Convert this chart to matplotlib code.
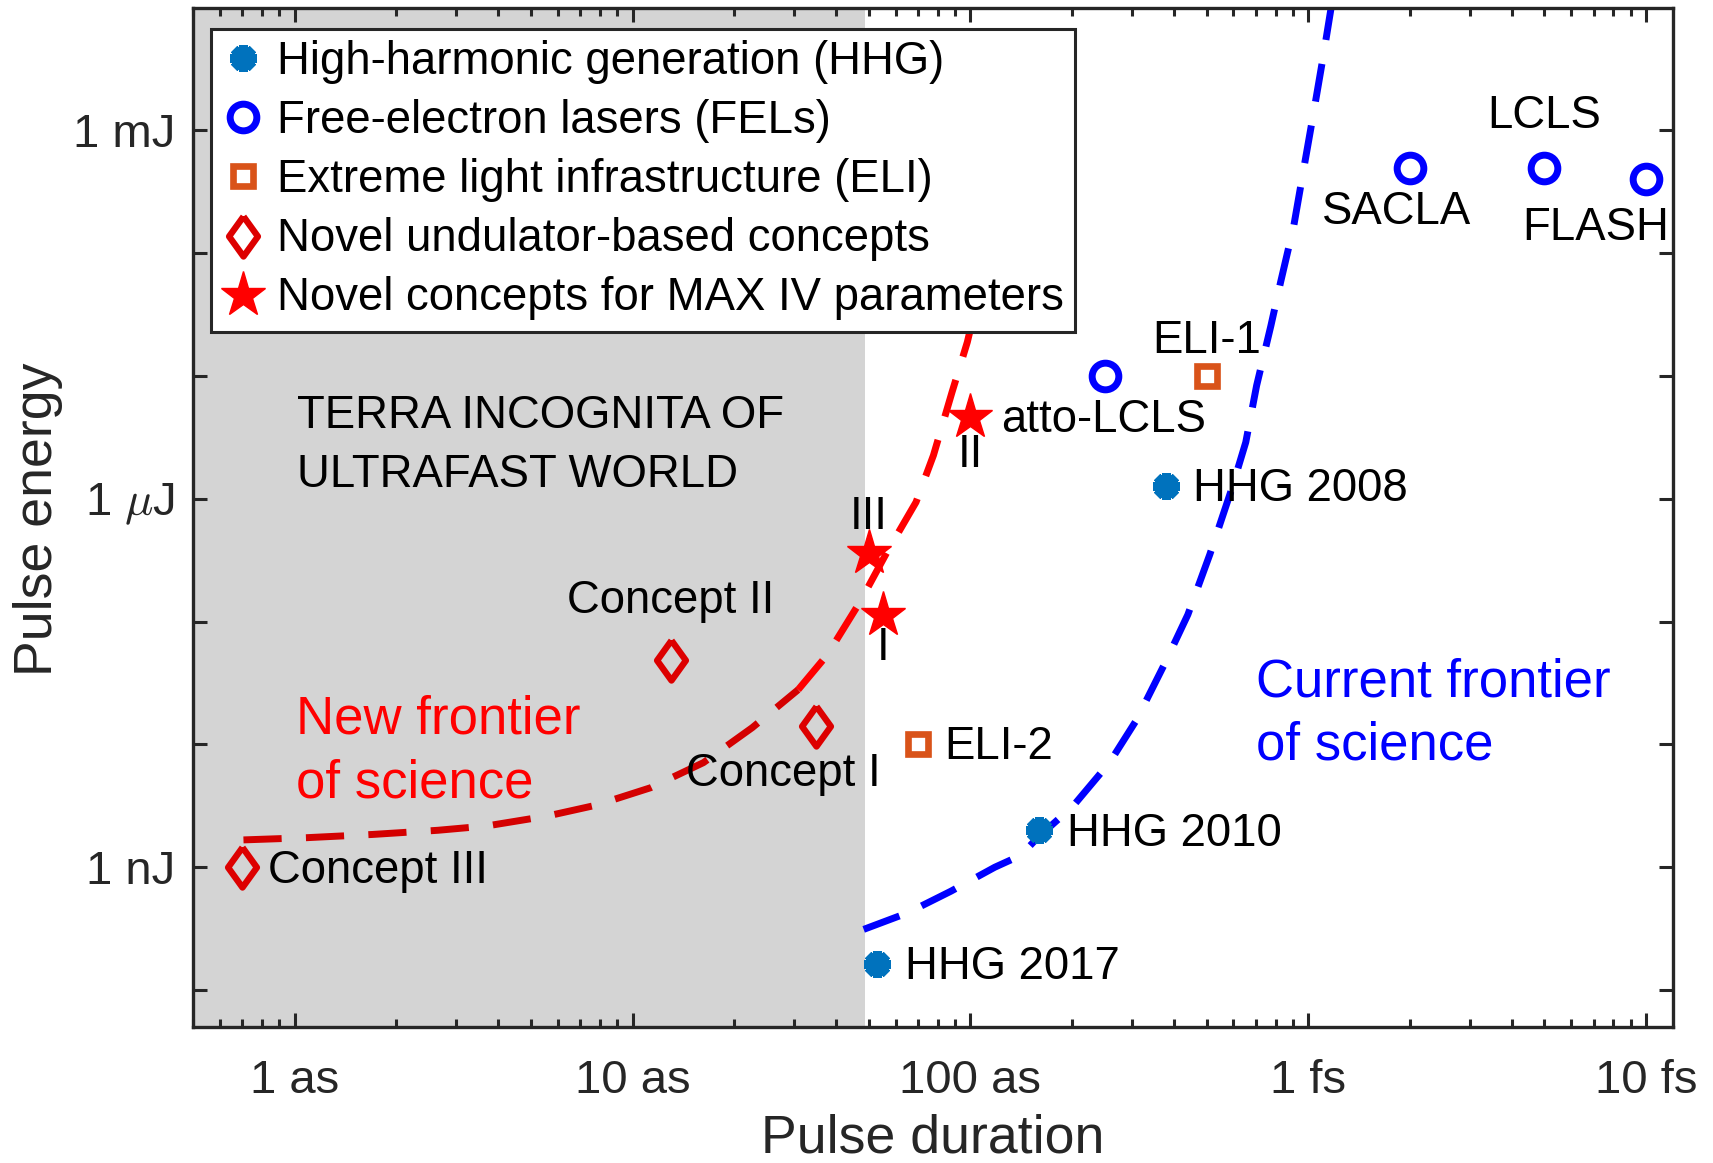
import matplotlib.pyplot as plt
from matplotlib.ticker import LogLocator, NullFormatter, NullLocator
import numpy as np

plt.rcParams['font.family'] = ['Liberation Sans', 'DejaVu Sans']
plt.rcParams['mathtext.fontset'] = 'cm'

# durations in attoseconds, energies in nanojoules
hhg_t = [379, 160, 52.8]
hhg_e = [1275, 2.0, 0.162]
hhg_names = ['HHG 2008', 'HHG 2010', 'HHG 2017']

fel_t = [250, 2000, 5000, 10000]
fel_e = [1.0e4, 4.9e5, 4.9e5, 4.0e5]
fel_names = ['', 'SACLA', 'LCLS', 'FLASH']

eli_t = [500, 70]
eli_e = [1.0e4, 10]
eli_names = ['ELI-1', 'ELI-2']

und_t = [35, 13, 0.7]
und_e = [14.2, 48.5, 1.0]
und_names = ['Concept I', 'Concept II', 'Concept III']

maxiv_t = [55, 100, 50]
maxiv_e = [114, 4600, 359]
maxiv_names = ['I', 'II', 'III']

# frontier curves
new_t = [0.705, 1.08, 1.70, 2.65, 3.70, 5.58, 7.79, 11.3, 16.2, 22.6, 30.9,
         37.7, 47.2, 56.8, 69.0, 77.7, 88.2, 97.9, 109]
new_e = [1.67, 1.74, 1.85, 2.00, 2.17, 2.61, 3.20, 4.44, 7.11, 13.7, 27.9,
         53.7, 146, 374, 939, 2260, 7390, 1.89e4, 6.58e4]
cur_t = [48.3, 65.0, 87.5, 118, 141, 158, 201, 258, 310, 376, 440, 511, 593,
         653, 703, 775, 828, 906, 968, 1036, 1107, 1167]
cur_e = [0.312, 0.424, 0.638, 1.0, 1.25, 1.74, 3.14, 7.11, 15.8, 45.6, 114,
         352, 1200, 2890, 8350, 2.57e4, 5.82e4, 1.68e5, 4.77e5, 1.38e6,
         4.0e6, 9.8e6]

terra_edge = 48.6

x_ticks = [1, 10, 100, 1000, 10000]
x_labels = ['1 as', '10 as', '100 as', '1 fs', '10 fs']
y_ticks = [0.1, 1, 10, 100, 1e3, 1e4, 1e5, 1e6]
y_labels = ['', '1 nJ', '', '', r'1 $\mu$J', '', '', '1 mJ']

AX = '#262626'
C_HHG = '#0072BD'
C_FEL = '#0000FF'
C_ELI = '#D95319'
C_UND = '#DD0000'
C_NEW = '#FF0000'

diamond = [(0, 1), (0.72, 0), (0, -1), (-0.72, 0), (0, 1)]

fig = plt.figure(figsize=(8.565, 5.815), dpi=200)
ax = fig.add_axes([0.1127, 0.1169, 0.8639, 0.8766])
ax.set_xscale('log')
ax.set_yscale('log')
ax.set_xlim(0.5, 12000)
ax.set_ylim(0.05, 1e7)

ax.axvspan(0.5, terra_edge, color='#d4d4d4', lw=0, zorder=0)

k = 10
ax.plot(new_t[:k + 1], new_e[:k + 1], color='#d40000', lw=2.5, dashes=(5.5, 3.5), zorder=2)
ax.plot(new_t[k:], new_e[k:], color=C_NEW, lw=2.5, dashes=(5.5, 3.5), zorder=2)
ax.plot(cur_t, cur_e, color=C_FEL, lw=2.5, dashes=(5.5, 3.5), zorder=2)

h1, = ax.plot(hhg_t, hhg_e, ls='none', marker=(8, 2, 0), ms=9.5, mew=3.2,
              color=C_HHG, label='High-harmonic generation (HHG)', zorder=3)
h2, = ax.plot(fel_t, fel_e, ls='none', marker='o', ms=9.6, mew=2.5, mfc='none',
              color=C_FEL, label='Free-electron lasers (FELs)', zorder=3)
h3, = ax.plot(eli_t, eli_e, ls='none', marker='s', ms=7.3, mew=2.4, mfc='none',
              color=C_ELI, label='Extreme light infrastructure (ELI)', zorder=3)
h4, = ax.plot(und_t, und_e, ls='none', marker=diamond, ms=14.4, mew=2.3,
              mfc='none', color=C_UND, label='Novel undulator-based concepts', zorder=3)
h5, = ax.plot(maxiv_t, maxiv_e, ls='none', marker='*', ms=17, mew=0.5,
              color=C_NEW, label='Novel concepts for MAX IV parameters', zorder=3)

fs = 16.4


def tag(text, x, y, dx, dy, ha='left'):
    ax.annotate(text, (x, y), xytext=(dx, dy), textcoords='offset pixels',
                ha=ha, va='center', fontsize=fs, color='black', zorder=4)


hhg_off = [(27, -3), (28, -4), (28, -3)]
for name, t, e, (dx, dy) in zip(hhg_names, hhg_t, hhg_e, hhg_off):
    tag(name, t, e, dx, dy)

fel_off = [None, (-13, -44), (0, 52), (-50, -49)]
for name, t, e, off in zip(fel_names, fel_t, fel_e, fel_off):
    if name:
        tag(name, t, e, off[0], off[1], ha='center')

tag(eli_names[0], eli_t[0], eli_e[0], 0, 35, ha='center')
tag(eli_names[1], eli_t[1], eli_e[1], 26, -3)

und_off = [(-33, -48, 'center'), (0, 59, 'center'), (26, -4, 'left')]
for name, t, e, (dx, dy, ha) in zip(und_names, und_t, und_e, und_off):
    tag(name, t, e, dx, dy, ha=ha)

maxiv_off = [(0, -33), (0, -38), (0, 36)]
for name, t, e, (dx, dy) in zip(maxiv_names, maxiv_t, maxiv_e, maxiv_off):
    tag(name, t, e, dx, dy, ha='center')
tag('atto-LCLS', maxiv_t[1], maxiv_e[1], 31, -3)

ax.text(0.0703, 0.5704, 'TERRA INCOGNITA OF\nULTRAFAST WORLD', transform=ax.transAxes,
        ha='left', va='center', fontsize=fs, linespacing=1.45, zorder=4)
ax.text(0.0696, 0.270, 'New frontier\nof science', transform=ax.transAxes,
        ha='left', va='center', fontsize=19, color=C_NEW, linespacing=1.35, zorder=4)
ax.text(0.7185, 0.307, 'Current frontier\nof science', transform=ax.transAxes,
        ha='left', va='center', fontsize=19, color=C_FEL, linespacing=1.35, zorder=4)

ax.set_xticks(x_ticks)
ax.set_xticklabels(x_labels)
ax.xaxis.set_minor_locator(LogLocator(base=10, subs=np.arange(2, 10)))
ax.xaxis.set_minor_formatter(NullFormatter())
ax.set_yticks(y_ticks)
ax.set_yticklabels(y_labels)
ax.yaxis.set_minor_locator(NullLocator())

ax.tick_params(which='both', direction='in', top=True, right=True,
               color=AX, width=1.1, labelcolor=AX, labelsize=17)
ax.tick_params(which='major', length=5.2)
ax.tick_params(which='minor', length=2.8)
ax.tick_params(axis='x', pad=11.5)
ax.tick_params(axis='y', pad=6.5)
for s in ax.spines.values():
    s.set_linewidth(1.2)
    s.set_color(AX)

ax.set_xlabel('Pulse duration', fontsize=19.3, color=AX)
ax.set_ylabel('Pulse energy', fontsize=19.3, color=AX)
ax.xaxis.set_label_coords(0.5, -0.109)
ax.xaxis.label.set_va('center')
ax.yaxis.set_label_coords(-0.1046, 0.498)
ax.yaxis.label.set_va('center')

leg = ax.legend(handles=[h1, h2, h3, h4, h5], loc='upper left',
                bbox_to_anchor=(0.012, 0.979), borderaxespad=0, fontsize=fs,
                handlelength=0.9, handletextpad=0.3, borderpad=0.25,
                labelspacing=0.33, fancybox=False, framealpha=1,
                edgecolor=AX)
leg.get_frame().set_linewidth(1.1)
leg.set_zorder(5)

fig.savefig('out.png', dpi=200)
